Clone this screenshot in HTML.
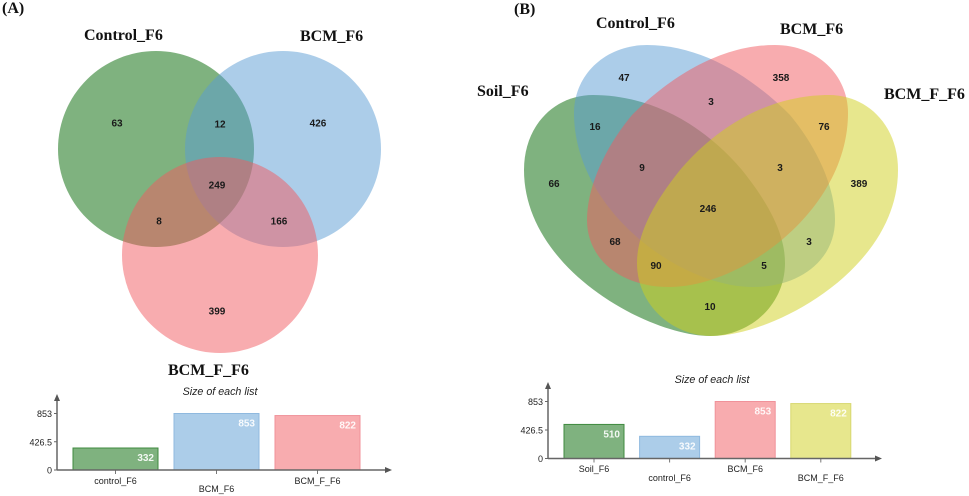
<!DOCTYPE html>
<html lang="en">
<head>
<meta charset="utf-8">
<title>Venn diagrams</title>
<style>
html,body{margin:0;padding:0;background:#fff;width:969px;height:496px;overflow:hidden}
svg{display:block;filter:blur(.3px)}
.h{font:bold 16px "Liberation Serif",serif;fill:#111}
.n{font:bold 10px "Liberation Sans",sans-serif;fill:#1a1a1a;text-anchor:middle;dominant-baseline:central}
.t{font:italic 10.7px "Liberation Sans",sans-serif;fill:#222;text-anchor:middle}
.k{font:9px "Liberation Sans",sans-serif;fill:#222}
.v{font:bold 10px "Liberation Sans",sans-serif;fill:rgba(255,255,255,.9);text-anchor:end}
</style>
</head>
<body>
<svg id="fig" width="969" height="496" viewBox="0 0 969 496" xmlns="http://www.w3.org/2000/svg">
<rect width="969" height="496" fill="#fff"/>

<g>
<circle cx="156" cy="149" r="98" fill="rgba(0,102,0,.5)"/>
<circle cx="283" cy="149" r="98" fill="rgba(90,155,212,.5)"/>
<circle cx="220" cy="255" r="98" fill="rgba(241,90,96,.5)"/>
</g>
<text class="h" x="2" y="13">(A)</text>
<text class="h" x="84" y="40">Control_F6</text>
<text class="h" x="300" y="41">BCM_F6</text>
<text class="h" x="168" y="375">BCM_F_F6</text>
<g>
<text class="n" x="117" y="124">63</text>
<text class="n" x="220" y="125">12</text>
<text class="n" x="318" y="124">426</text>
<text class="n" x="217" y="186">249</text>
<text class="n" x="159" y="222">8</text>
<text class="n" x="279" y="222">166</text>
<text class="n" x="217" y="312">399</text>
</g>

<g>
<path d="M593 95C640 95 695 115 742 170C770 205 785 235 785 263C785 305 750 336 710 336C650 336 524 270 524 170C524 125 555 95 593 95Z" fill="rgba(0,102,0,.5)"/>
<path d="M647 45C700 45 750 75 790 115C815 145 835 185 835 220C835 260 800 287 753 287C680 287 574 210 574 113C574 75 605 45 647 45Z" fill="rgba(90,155,212,.5)"/>
<path d="M775 45C722 45 672 75 632 115C607 145 587 185 587 220C587 260 622 287 669 287C742 287 848 210 848 113C848 75 817 45 775 45Z" fill="rgba(241,90,96,.5)"/>
<path d="M829 95C782 95 727 115 680 170C652 205 637 235 637 263C637 305 672 336 712 336C772 336 898 270 898 170C898 125 867 95 829 95Z" fill="rgba(207,207,27,.5)"/>
</g>
<text class="h" x="514" y="14">(B)</text>
<text class="h" x="596" y="28">Control_F6</text>
<text class="h" x="780" y="34">BCM_F6</text>
<text class="h" x="477" y="96">Soil_F6</text>
<text class="h" x="884" y="99">BCM_F_F6</text>
<g>
<text class="n" x="624" y="78.5">47</text>
<text class="n" x="781" y="78.5">358</text>
<text class="n" x="711" y="102.5">3</text>
<text class="n" x="595" y="127.5">16</text>
<text class="n" x="824" y="127.5">76</text>
<text class="n" x="642" y="168.5">9</text>
<text class="n" x="780" y="168.5">3</text>
<text class="n" x="554" y="184.5">66</text>
<text class="n" x="859" y="184.5">389</text>
<text class="n" x="708" y="209.5">246</text>
<text class="n" x="615" y="242.5">68</text>
<text class="n" x="809" y="242.5">3</text>
<text class="n" x="656" y="266.5">90</text>
<text class="n" x="764" y="266.5">5</text>
<text class="n" x="710" y="307.5">10</text>
</g>

<g id="chart-a"></g>
<g id="chart-b"></g>
</svg>

<script>
var categoriesA = ['control_F6', 'BCM_F6', 'BCM_F_F6'];
var valuesA = [332, 853, 822];
var fillsA = ['rgba(0,102,0,.5)', 'rgba(90,155,212,.5)', 'rgba(241,90,96,.5)'];
var strokesA = ['#3f8a3f', '#8fb9df', '#f0929a'];
var categoriesB = ['Soil_F6', 'control_F6', 'BCM_F6', 'BCM_F_F6'];
var valuesB = [510, 332, 853, 822];
var fillsB = ['rgba(0,102,0,.5)', 'rgba(90,155,212,.5)', 'rgba(241,90,96,.5)', 'rgba(207,207,27,.5)'];
var strokesB = ['#3f8a3f', '#8fb9df', '#f0929a', '#d8d870'];
var yTicks = [0, 426.5, 853];
var yMax = 853;
var titleText = 'Size of each list';

var NS = 'http://www.w3.org/2000/svg';
function make(parent, tag, attrs, text) {
  var el = document.createElementNS(NS, tag);
  for (var k in attrs) el.setAttribute(k, attrs[k]);
  if (text !== undefined) el.textContent = text;
  parent.appendChild(el);
  return el;
}
function drawChart(id, cats, vals, fills, strokes, box) {
  var g = document.getElementById(id);
  function y(v) { return box.y0 - (v / yMax) * (box.y0 - box.yTop); }
  function xBar(i) { return box.x0 + i * box.step; }

  var title = make(g, 'text', { 'class': 't', x: box.titleX, y: box.titleY }, titleText);
  
  

  cats.forEach(function (c, i) {
    var top = y(vals[i]);
    var bar = make(g, 'rect', { x: xBar(i), y: top, width: box.w, height: box.y0 - top, fill: fills[i], stroke: strokes[i], 'stroke-width': 1 });
    
    

    var val = make(g, 'text', { 'class': 'v', x: xBar(i) + box.w - 4, y: top + 13 }, String(vals[i]));
    
    

    var cx = xBar(i) + box.w / 2;
    var tick = make(g, 'line', { x1: cx, x2: cx, y1: box.y0, y2: box.y0 + 4, stroke: '#777', 'stroke-width': 1 });
    
    

    var lab = make(g, 'text', { 'class': 'k', x: cx, y: box.y0 + (i % 2 ? box.low : box.high), 'text-anchor': 'middle' }, c);
    
    
  });

  yTicks.forEach(function (t) {
    var tk = make(g, 'line', { x1: box.ax - 3, x2: box.ax, y1: y(t), y2: y(t), stroke: '#666', 'stroke-width': 1 });
    
    
    var lb = make(g, 'text', { 'class': 'k', x: box.ax - 5, y: y(t) + 3.5, 'text-anchor': 'end' }, String(t));
    
    
  });

  var ya = make(g, 'line', { x1: box.ax, x2: box.ax, y1: box.y0, y2: box.arrowTop + 6, stroke: '#666', 'stroke-width': 1.5 });
  
  
  var yh = make(g, 'path', { d: 'M' + box.ax + ' ' + box.arrowTop + 'l-3 7h6z', fill: '#555' });
  
  
  var xa = make(g, 'line', { x1: box.ax, x2: box.arrowEnd - 6, y1: box.y0, y2: box.y0, stroke: '#666', 'stroke-width': 1.5 });
  
  
  var xh = make(g, 'path', { d: 'M' + box.arrowEnd + ' ' + box.y0 + 'l-7 -3v6z', fill: '#555' });
  
  
}
drawChart('chart-a', categoriesA, valuesA, fillsA, strokesA, {
  ax: 57, x0: 73, step: 101, w: 85, y0: 470, yTop: 413.5,
  arrowTop: 394, arrowEnd: 392, high: 14, low: 22, titleX: 220, titleY: 395
});
drawChart('chart-b', categoriesB, valuesB, fillsB, strokesB, {
  ax: 548, x0: 564, step: 75.6, w: 60, y0: 458.5, yTop: 401.5,
  arrowTop: 382, arrowEnd: 882, high: 13.5, low: 22.5, titleX: 712, titleY: 383
});
</script>
</body>
</html>
